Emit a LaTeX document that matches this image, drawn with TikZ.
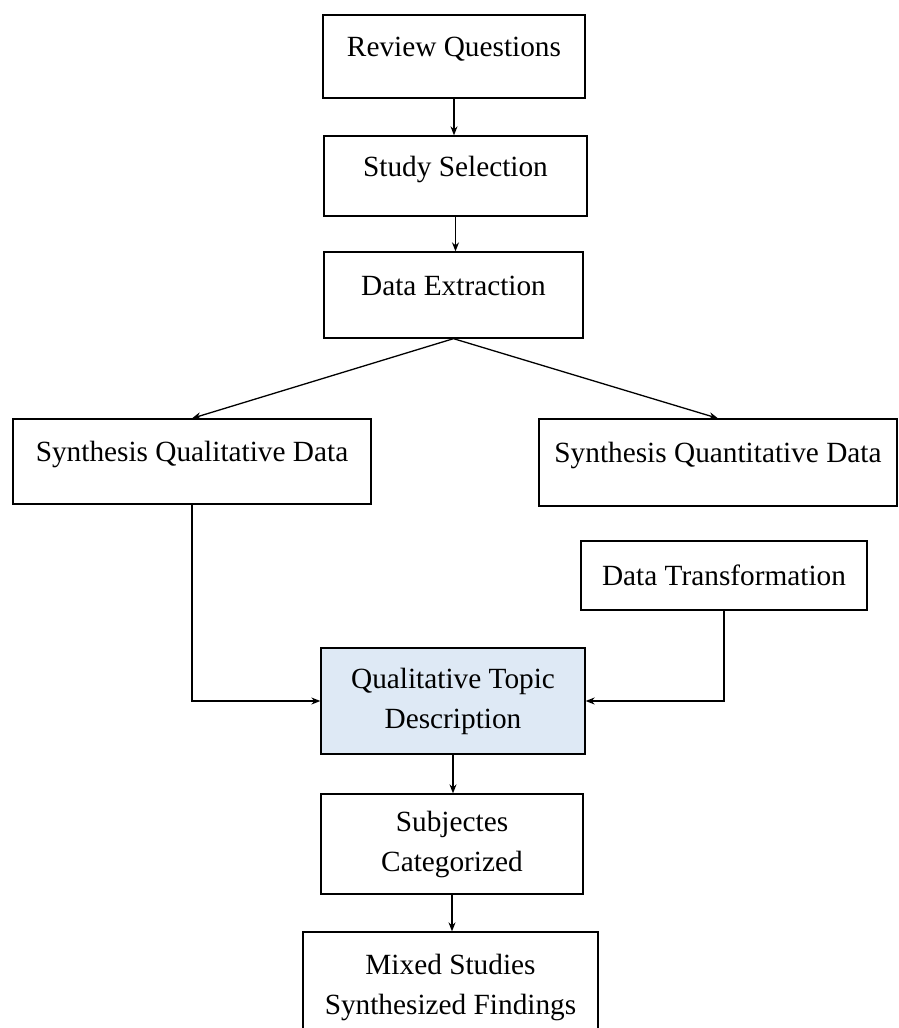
\documentclass[tikz,border=0pt]{standalone}
\usepackage{fontspec}
\setmainfont{Liberation Serif}
\usetikzlibrary{arrows.meta}

\definecolor{topicblue}{RGB}{222,233,245}

\begin{document}
\begin{tikzpicture}[x=1pt,y=-1pt,
    box/.style={draw,line width=1.3pt,inner sep=0pt,align=center,
        font=\fontsize{29.3}{40}\selectfont},
    onebox/.style={box,text height=12pt,text depth=12pt},
    flow/.style={line width=1.3pt,-{Stealth[length=9pt,width=7pt]}}]
    \useasboundingbox (0,0) rectangle (899,1028);

    \node[onebox,minimum width=262pt,minimum height=83pt] (rq) at (454,56.5) {Review Questions};
    \node[onebox,minimum width=263pt,minimum height=80pt] (ss) at (455.5,176) {Study Selection};
    \node[onebox,minimum width=259pt,minimum height=86pt] (de) at (453.5,295) {Data Extraction};
    \node[onebox,minimum width=358pt,minimum height=85pt] (sql) at (192,461.5) {Synthesis Qualitative Data};
    \node[onebox,minimum width=358pt,minimum height=87pt] (sqt) at (718,462.5) {Synthesis Quantitative Data};
    \node[box,minimum width=286pt,minimum height=69pt] (dt) at (724,575.5) {Data Transformation};
    \node[box,fill=topicblue,minimum width=264pt,minimum height=106pt] (qtd) at (453,701) {Qualitative Topic\\Description};
    \node[box,minimum width=262pt,minimum height=100pt] (sc) at (452,844) {Subjectes\\Categorized};
    \node[box,minimum width=295pt,minimum height=110pt] (ms) at (450.5,987) {Mixed Studies\\Synthesized Findings};

    \draw[flow] (rq) -- (rq |- ss.north);
    \draw[flow] (ss) -- (ss |- de.north);
    \draw[flow] (de.south) -- (sql.north);
    \draw[flow] (de.south) -- (sqt.north);
    \draw[flow] (sql.south) |- (qtd.west);
    \draw[flow] (dt.south) |- (qtd.east);
    \draw[flow] (qtd) -- (qtd |- sc.north);
    \draw[flow] (sc) -- (sc |- ms.north);
\end{tikzpicture}
\end{document}
